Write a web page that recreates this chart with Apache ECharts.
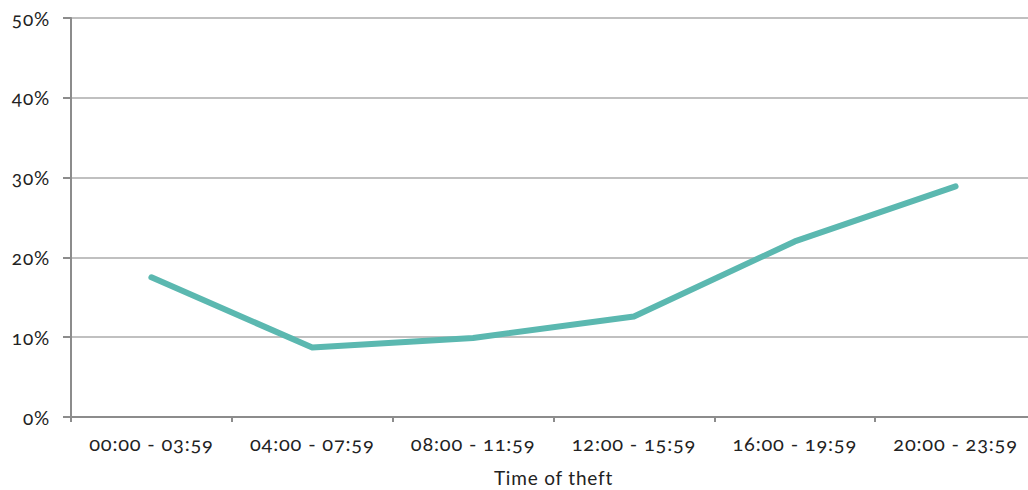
<!DOCTYPE html>
<html>
<head>
<meta charset="utf-8">
<script src="https://cdn.jsdelivr.net/npm/echarts@6/dist/echarts.min.js"></script>
<style>
  html, body { margin: 0; padding: 0; background: #fff; overflow: hidden; }
  #chart { width: 1028px; height: 490px; }
  /* old-style figures and a little tracking for the axis text */
  #chart text { font-variant-numeric: oldstyle-nums; font-feature-settings: "onum" 1; letter-spacing: 0.8px; }
</style>
</head>
<body>
<div id="chart"></div>
<script>
// Share of thefts by time of day
const timeSlots = ['00:00 - 03:59', '04:00 - 07:59', '08:00 - 11:59', '12:00 - 15:59', '16:00 - 19:59', '20:00 - 23:59'];
const theftShare = [17.5, 8.7, 9.9, 12.6, 22.0, 28.9];
const axisTitle = 'Time of theft';

const font = 'Lato, "Open Sans", sans-serif';
const chart = echarts.init(document.getElementById('chart'), null, { renderer: 'svg' });

chart.setOption({
  animation: false,
  grid: { left: 71, top: 18, right: -8, bottom: 73, containLabel: false, outerBoundsMode: 'none' },
  xAxis: {
    type: 'category',
    data: timeSlots,
    boundaryGap: true,
    name: axisTitle,
    nameLocation: 'middle',
    nameGap: 51,
    nameTextStyle: { fontFamily: font, fontSize: 19, color: '#222' },
    axisLine: { lineStyle: { color: '#8c8c8c', width: 2 } },
    axisTick: { show: true, length: 5, lineStyle: { color: '#8c8c8c', width: 2 } },
    axisLabel: { fontFamily: font, fontSize: 20, color: '#222', margin: 16 },
    splitLine: { show: false }
  },
  yAxis: {
    type: 'value',
    min: 0,
    max: 50,
    interval: 10,
    axisLine: { show: true, lineStyle: { color: '#8c8c8c', width: 2 } },
    axisTick: { show: true, length: 8, lineStyle: { color: '#8c8c8c', width: 2 } },
    axisLabel: { fontFamily: font, fontSize: 19, color: '#222', margin: 21, formatter: '{value}%' },
    splitLine: { lineStyle: { color: '#c0c0c0', width: 2 } }
  },
  series: [{
    type: 'line',
    data: theftShare,
    showSymbol: false,
    symbol: 'none',
    lineStyle: { color: '#5bb8b0', width: 6, cap: 'round', join: 'round' },
    itemStyle: { color: '#5bb8b0' }
  }]
});
</script>
</body>
</html>
